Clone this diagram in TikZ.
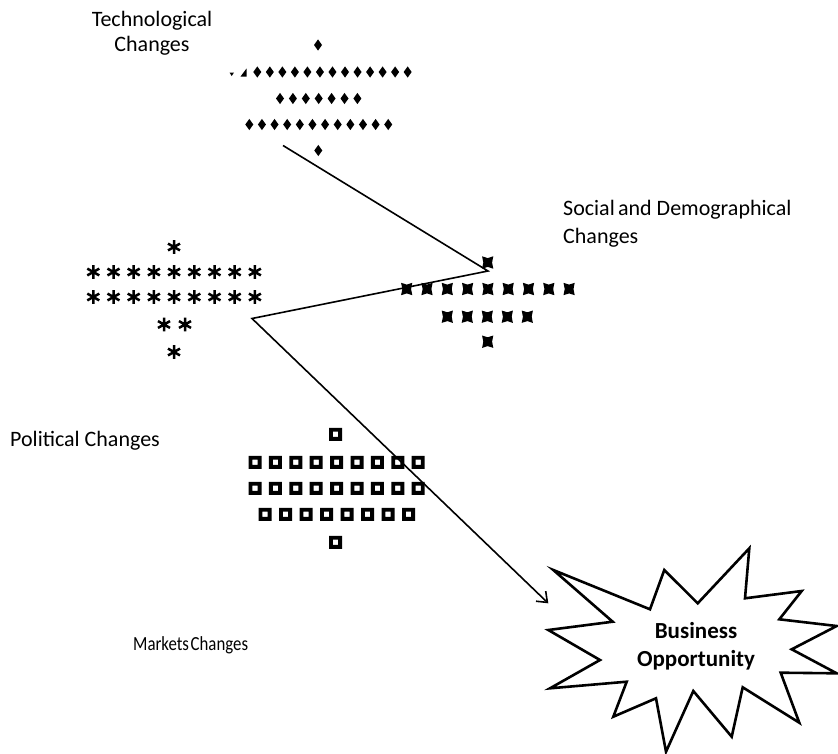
\documentclass[tikz,border=0pt]{standalone}
\usepackage{fontspec}
\setmainfont{Carlito}
\usetikzlibrary{arrows.meta}

\tikzset{
  label text/.style={font=\fontsize{22}{25}\selectfont, inner sep=0pt},
  connector/.style={line width=1.6pt, line join=miter},
  burst/.style={line width=2.6pt, line join=miter, fill=white},
  pics/diam/.style={code={\fill (0,5.6) -- (4,0) -- (0,-5.6) -- (-4,0) -- cycle;}},
  pics/aster/.style={code={
    \draw[line width=2.5pt] (0,-6.8) -- (0,6.8) (-6,-3.4) -- (6,3.4) (-6,3.4) -- (6,-3.4);}},
  pics/sparkle/.style={code={
    \fill (5.6,6.2) -- (0,4.4) -- (-5.6,6.2) -- (-4.4,0) -- (-5.6,-6.2) -- (0,-4.4)
          -- (5.6,-6.2) -- (4.4,0) -- cycle;}},
  pics/hollowsq/.style={code={
    \fill[even odd rule] (-6.5,-6.5) rectangle (6.5,6.5) (-2.6,-2.6) rectangle (2.6,2.6);}},
}

\begin{document}
\begin{tikzpicture}[x=1pt, y=-1pt]
\useasboundingbox (0,0) rectangle (838,753);

% labels of the four kinds of change
\node[label text, align=center] (tech) at (152,33) {Technological\\Changes};
\node[label text, font=\fontsize{22}{28}\selectfont, align=left, anchor=west] (social) at (563,224)
  {Social\hspace{0.15em}and Demographical\\Changes};
\node[label text, anchor=west] (political) at (10,441) {Political Changes};
\node[label text, font=\fontsize{20}{24}\selectfont, anchor=west] (markets) at (133,645)
  {\scalebox{0.84}[1]{Markets\hspace{0.1em}Changes}};

% diamond cluster
\pic at (318,45) {diam};
\foreach \i in {0,...,12} \pic at (257.3+12.53*\i,72) {diam};
\fill (229.5,72.5) -- (234,72.5) -- (231.7,76) -- cycle;
\fill (246.5,68.5) -- (246.5,76.5) -- (240.5,76.5) -- cycle;
\foreach \i in {0,...,6} \pic at (280+12.9*\i,98.5) {diam};
\foreach \i in {0,...,11} \pic at (249.3+12.63*\i,124.5) {diam};
\pic at (318.3,150.5) {diam};

% sparkle cluster
\pic at (487.7,262.5) {sparkle};
\foreach \i in {0,...,8} \pic at (406.7+20.3*\i,289) {sparkle};
\foreach \i in {0,...,4} \pic at (447.3+20*\i,316.7) {sparkle};
\pic at (487.7,341.7) {sparkle};

% asterisk cluster
\pic at (174,247) {aster};
\foreach \i in {0,...,8} \pic at (93.3+20.2*\i,272) {aster};
\foreach \i in {0,...,8} \pic at (93.3+20.2*\i,297) {aster};
\pic at (164,324.5) {aster};
\pic at (185,324.5) {aster};
\pic at (174,352) {aster};

% square cluster
\pic at (335.5,434.3) {hollowsq};
\foreach \i in {0,...,8} \pic at (255+20.4*\i,462.3) {hollowsq};
\foreach \i in {0,...,8} \pic at (255+20.4*\i,488.3) {hollowsq};
\foreach \i in {0,...,7} \pic at (265+20.5*\i,514.3) {hollowsq};
\pic at (335.5,542.3) {hollowsq};

% the opportunity starburst
\draw[burst] (553.3,570) -- (650,609.3) -- (664.3,570) -- (697.7,603.3) -- (749.3,548.3)
  -- (745,598.3) -- (801.7,591) -- (779.3,619.3) -- (836.7,626) -- (791.7,649.3)
  -- (836.7,673.3) -- (780.7,672.7) -- (799.3,722.7) -- (742.7,687.3) -- (731.7,736.7)
  -- (693.3,691) -- (666,751.7) -- (656,698.3) -- (613.3,716.7) -- (626.7,681.7)
  -- (550,688.3) -- (600,660) -- (548.3,630) -- (612.7,621.7) -- cycle;
\node[label text, font=\fontsize{23}{28}\selectfont\bfseries, align=center] (opp) at (696,646) {Business\\Opportunity};

% zig-zag path through the clusters
\coordinate (techEnd) at (283,145.5);
\coordinate (socialTurn) at (488,271);
\coordinate (politicalTurn) at (252,318.5);
\coordinate (oppEntry) at (548.3,603.3);
\draw[connector, -{Straight Barb[length=9pt,width=14pt,line width=1.6pt]}]
  (techEnd) -- (socialTurn) -- (politicalTurn) -- (oppEntry);
\end{tikzpicture}
\end{document}
